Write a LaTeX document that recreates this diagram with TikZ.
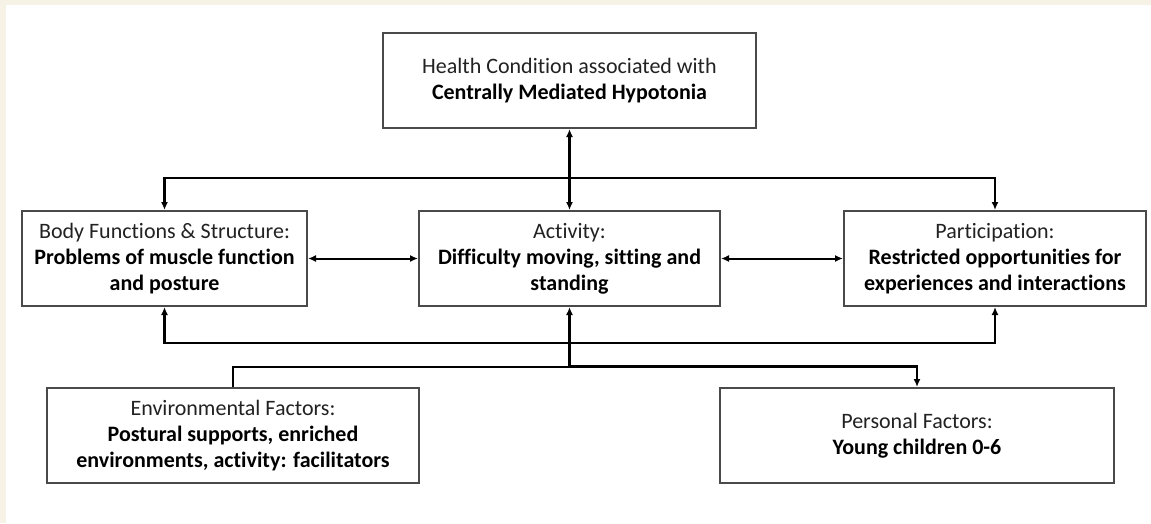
\documentclass[tikz,border=0pt]{standalone}
\usepackage{fontspec}
\setmainfont{Carlito}[Ligatures={NoCommon}]
\usepackage{tikz}
\usetikzlibrary{arrows.meta, calc, positioning}
\definecolor{paper}{HTML}{F6F3E6}
\definecolor{boxline}{HTML}{4A4A4A}
\definecolor{plaintext}{HTML}{222222}
\tikzset{
    icfBox/.style={rectangle, draw=boxline, line width=2pt, fill=white, inner sep=0pt, minimum height=95pt, align=center, font=\fontsize{22}{26}\selectfont, text=plaintext},
    icfEdge/.style={->, >={Latex[length=8pt, width=7pt]}, line width=2.4pt, black},
    icfBoth/.style={<->, >={Latex[length=8pt, width=7pt]}, line width=2pt, black},
    icfLine/.style={line width=2pt, black},
}
\newcommand{\drawBoth}[2]{
    \draw[icfBoth] (#1) -- (#2);
}

\begin{document}
\begin{tikzpicture}[x=1pt, y=-1pt]
        \useasboundingbox (0,0) rectangle (1151,523);
        \fill[paper] (0,0) rectangle (1151,523);
        \fill[white] (6,5) rectangle (1151,523);

        \node[icfBox, minimum width=373pt] (hc) at (569.5,80.5) {Health Condition associated with\\ \textbf{\color{black}Centrally Mediated Hypotonia}};
        \node[icfBox, minimum width=285pt] (body) at (164.5,258.5) {Body Functions \& Structure:\\ \textbf{\color{black}Problems of muscle function}\\ \textbf{\color{black}and posture}};
        \node[icfBox, minimum width=301pt] (act) at (569.5,258.5) {Activity:\\ \textbf{\color{black}Difficulty moving, sitting and}\\ \textbf{\color{black}standing}};
        \node[icfBox, minimum width=302pt] (part) at (995,258.5) {Participation:\\ \textbf{\color{black}Restricted opportunities for}\\ \textbf{\color{black}experiences and interactions}};
        \node[icfBox, minimum width=372pt] (env) at (233,435.5) {Environmental Factors:\\ \textbf{\color{black}Postural supports, enriched}\\ \textbf{\color{black}environments, activity: facilitators}};
        \node[icfBox, minimum width=394pt] (pers) at (917,435.5) {Personal Factors:\\ \textbf{\color{black}Young children 0-6}};

        % junctions of the buses
        \coordinate (jtop) at (569.5,178);
        \coordinate (jbot) at (569.5,343);
        \coordinate (jfac) at (569.5,366.5);

        \draw[icfEdge] (jtop) -- (hc.south);
        \draw[icfEdge] (jtop) -- (act.north);
        \draw[icfEdge] (jtop) -| (body.north);
        \draw[icfEdge] (jtop) -| (part.north);

        \drawBoth{body}{act}
        \drawBoth{act}{part}

        \draw[icfEdge] (jbot) -| (body.south);
        \draw[icfEdge] (jbot) -| (part.south);
        \draw[icfEdge] (jfac) -- (act.south);
        \draw[icfLine] (jfac) -| (env.north);
        \draw[icfEdge] (jfac) -| (pers.north);

    \end{tikzpicture}
\end{document}
